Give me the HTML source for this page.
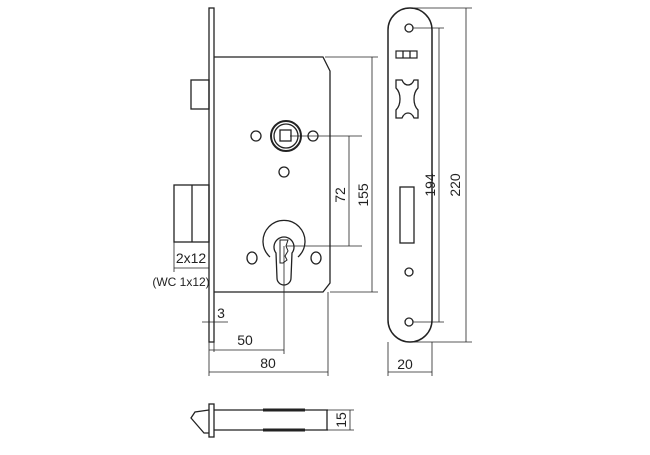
<!DOCTYPE html>
<html><head><style>
body{margin:0;background:#fff;width:650px;height:450px;overflow:hidden}
text{font-family:"Liberation Sans",sans-serif;font-size:14px;fill:#222}
</style></head><body>
<svg width="650" height="450" viewBox="0 0 650 450" stroke="#222" fill="none" stroke-width="1.3">
<!-- left faceplate -->
<rect x="209" y="8" width="5" height="334" fill="#fff"/>
<!-- body -->
<path d="M214 57 H323 L330 71 V283 L323 292 H214"/>
<!-- latch -->
<rect x="191" y="80" width="18" height="29"/>
<rect x="174" y="185" width="35" height="57"/>
<line x1="192" y1="185" x2="192" y2="242"/>
<!-- spindle -->
<circle cx="286" cy="136" r="15" stroke-width="2"/>
<circle cx="286" cy="136" r="12"/>
<rect x="280" y="130" width="11" height="11"/>
<circle cx="256" cy="136" r="5"/><circle cx="313" cy="136" r="5"/><circle cx="284" cy="172" r="5"/>
<!-- cylinder -->
<path d="M270 257 A21 21 0 1 1 298 257"/>
<path d="M276 253 A10 10 0 1 1 292 253 L291 278 A7 7 0 0 1 277 278 Z"/>
<path d="M280 240 h8 l-2 6 2 5 -3 5 2 4 -4 3 h-3 z" stroke-width="1"/>
<ellipse cx="252" cy="258" rx="5" ry="6"/><ellipse cx="316" cy="258" rx="5" ry="6"/>
<!-- dims left -->
<g stroke-width="0.8">
<line x1="290" y1="136" x2="362" y2="136"/><line x1="286" y1="246" x2="362" y2="246"/>
<line x1="349" y1="136" x2="349" y2="246"/>
<line x1="325" y1="57" x2="378" y2="57"/><line x1="330" y1="292" x2="378" y2="292"/>
<line x1="372" y1="57" x2="372" y2="292"/>
<line x1="284" y1="246" x2="284" y2="354"/>
<line x1="328" y1="292" x2="328" y2="376"/>
<line x1="209" y1="342" x2="209" y2="376"/>
<line x1="209" y1="350" x2="284" y2="350"/>
<line x1="209" y1="372" x2="328" y2="372"/>
<line x1="174" y1="242" x2="174" y2="272"/>
<line x1="174" y1="268" x2="209" y2="268"/>
<line x1="202" y1="322" x2="228" y2="322"/>
<line x1="214" y1="342" x2="214" y2="352"/>
</g>
<text x="0" y="0" stroke="none" transform="translate(345 195) rotate(-90)" text-anchor="middle">72</text>
<text x="0" y="0" stroke="none" transform="translate(368 195) rotate(-90)" text-anchor="middle">155</text>
<text x="191" y="263" stroke="none" text-anchor="middle">2x12</text>
<text x="181" y="286" stroke="none" text-anchor="middle" style="font-size:12px">(WC 1x12)</text>
<text x="221" y="318" stroke="none" text-anchor="middle">3</text>
<text x="245" y="345" stroke="none" text-anchor="middle">50</text>
<text x="268" y="368" stroke="none" text-anchor="middle">80</text>
<!-- right faceplate -->
<rect x="388" y="8" width="44" height="334" rx="22" ry="22" stroke-width="1.5"/>
<circle cx="409" cy="28" r="4"/><circle cx="409" cy="322" r="4"/><circle cx="409" cy="272" r="4"/>
<rect x="396" y="51" width="21" height="7" stroke-width="1.2"/>
<line x1="403" y1="51" x2="403" y2="58"/><line x1="410" y1="51" x2="410" y2="58"/>
<path d="M396 80 h6 q2 5 6 5 q4 0 6 -5 h4 v8 q-4 4 -4 11 q0 7 4 11 v8 h-4 q-2 -5 -6 -5 q-4 0 -6 5 h-6 v-8 q4 -4 4 -11 q0 -7 -4 -11 z"/>
<rect x="400" y="187" width="14" height="56"/>
<g stroke-width="0.8">
<line x1="413" y1="28" x2="444" y2="28"/><line x1="413" y1="322" x2="444" y2="322"/>
<line x1="439" y1="28" x2="439" y2="322"/>
<line x1="410" y1="8" x2="472" y2="8"/><line x1="410" y1="342" x2="472" y2="342"/>
<line x1="466" y1="8" x2="466" y2="342"/>
<line x1="388" y1="342" x2="388" y2="376"/><line x1="432" y1="342" x2="432" y2="376"/>
<line x1="388" y1="372" x2="432" y2="372"/>
</g>
<text x="0" y="0" stroke="none" transform="translate(435 185) rotate(-90)" text-anchor="middle">194</text>
<text x="0" y="0" stroke="none" transform="translate(460 185) rotate(-90)" text-anchor="middle">220</text>
<text x="405" y="369" stroke="none" text-anchor="middle">20</text>
<!-- bottom view -->
<path d="M209 410 L195 412 L191 418 L204 433 L209 433"/>
<rect x="209" y="404" width="5" height="33" fill="#fff"/>
<line x1="214" y1="410" x2="328" y2="410"/><line x1="214" y1="430" x2="328" y2="430"/>
<line x1="327" y1="410" x2="327" y2="430"/>
<line x1="263" y1="410" x2="305" y2="410" stroke-width="3"/>
<line x1="263" y1="430" x2="305" y2="430" stroke-width="3"/>
<g stroke-width="0.8">
<line x1="328" y1="410" x2="354" y2="410"/><line x1="328" y1="430" x2="354" y2="430"/>
<line x1="350" y1="410" x2="350" y2="430"/>
</g>
<text x="0" y="0" stroke="none" transform="translate(346 420) rotate(-90)" text-anchor="middle">15</text>
</svg>
</body></html>
